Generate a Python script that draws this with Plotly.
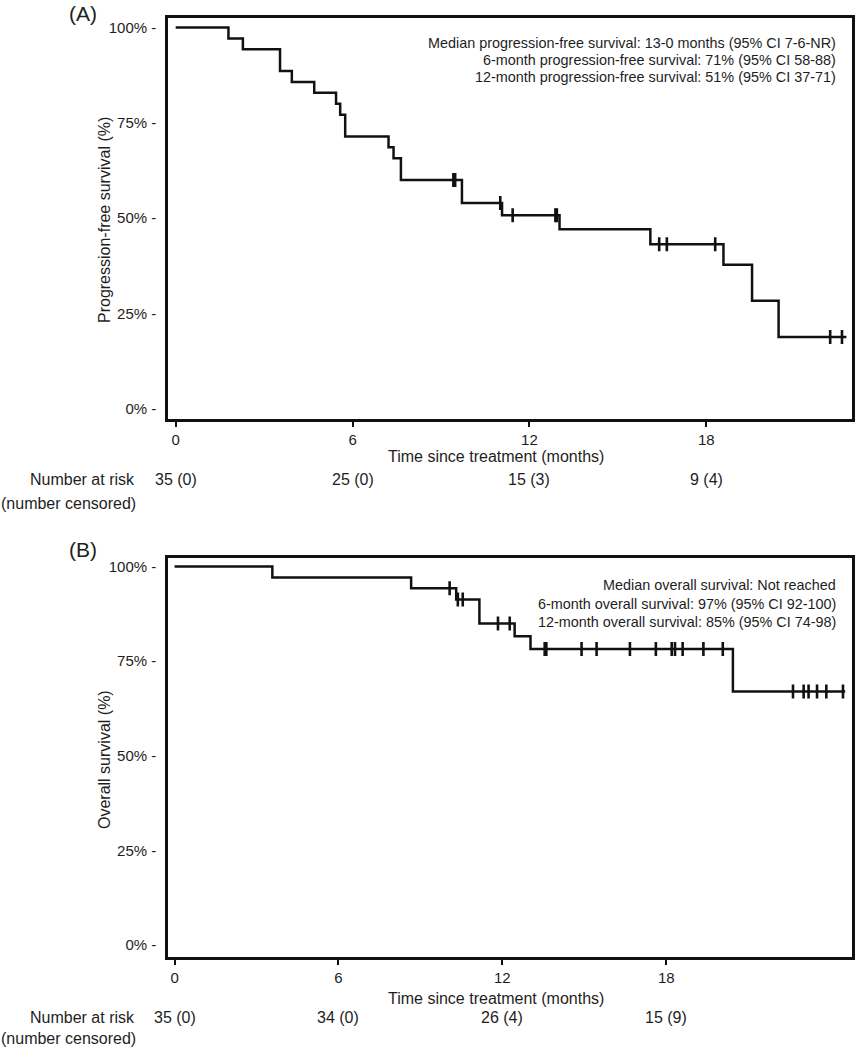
import plotly.graph_objects as go

# ---------------- Data: (A) progression-free survival ----------------
pfs_time = [0, 1.79, 2.28, 3.54, 3.94, 4.70, 5.44, 5.58, 5.75, 7.22, 7.39, 7.64,
            9.71, 11.07, 13.02, 16.10, 18.58, 19.55, 20.45, 22.75]
pfs_surv = [100, 97.1, 94.3, 88.6, 85.7, 82.9, 80.0, 77.1, 71.4, 68.6, 65.7, 60.0,
            54.0, 50.8, 47.1, 43.2, 37.8, 28.4, 18.9, 18.9]
pfs_cens_time = [9.42, 9.48, 11.01, 11.43, 12.88, 12.93, 16.40, 16.66, 18.30, 22.20, 22.60]
pfs_cens_surv = [60.0, 60.0, 54.0, 50.8, 50.8, 50.8, 43.2, 43.2, 43.2, 18.9, 18.9]

# ---------------- Data: (B) overall survival ----------------
os_time = [0, 3.58, 8.66, 10.31, 11.16, 12.45, 13.03, 20.44, 24.55]
os_surv = [100, 97.1, 94.3, 91.3, 85.0, 81.6, 78.2, 67.0, 67.0]
os_cens_time = [10.07, 10.37, 10.55, 11.84, 12.27, 13.55, 13.61, 14.90, 15.45, 16.67,
                17.62, 18.20, 18.32, 18.60, 19.36, 20.07,
                22.64, 23.03, 23.21, 23.52, 23.86, 24.47]
os_cens_surv = [94.3, 91.3, 91.3, 85.0, 85.0, 78.2, 78.2, 78.2, 78.2, 78.2,
                78.2, 78.2, 78.2, 78.2, 78.2, 78.2,
                67.0, 67.0, 67.0, 67.0, 67.0, 67.0]

x_ticks = [0, 6, 12, 18]
y_ticks = [0, 25, 50, 75, 100]
y_tick_text = ["0% -", "25% -", "50% -", "75% -", "100% -"]

pfs_risk = ["35 (0)", "25 (0)", "15 (3)", "9 (4)"]
os_risk = ["35 (0)", "34 (0)", "26 (4)", "15 (9)"]

pfs_text = ["Median progression-free survival: 13-0 months (95% CI 7-6-NR)",
            "6-month progression-free survival: 71% (95% CI 58-88)",
            "12-month progression-free survival: 51% (95% CI 37-71)"]
os_text = ["Median overall survival: Not reached",
           "6-month overall survival: 97% (95% CI 92-100)",
           "12-month overall survival: 85% (95% CI 74-98)"]

W, H = 855, 1050
FONT = "Liberation Sans, Arial, sans-serif"
TXT = "#1e1e1e"
LINE = "#111111"


def py(p):  # window pixel-from-top -> paper y
    return 1 - p / H


def px(p):
    return p / W


fig = go.Figure()

fig.add_trace(go.Scatter(x=pfs_time, y=pfs_surv, mode="lines", line=dict(shape="hv", color=LINE, width=2.5),
                         xaxis="x", yaxis="y", showlegend=False, hoverinfo="skip"))
fig.add_trace(go.Scatter(x=pfs_cens_time, y=pfs_cens_surv, mode="markers",
                         marker=dict(symbol="line-ns", size=10, line=dict(color=LINE, width=2.6)),
                         xaxis="x", yaxis="y", showlegend=False, hoverinfo="skip"))
fig.add_trace(go.Scatter(x=os_time, y=os_surv, mode="lines", line=dict(shape="hv", color=LINE, width=2.5),
                         xaxis="x2", yaxis="y2", showlegend=False, hoverinfo="skip"))
fig.add_trace(go.Scatter(x=os_cens_time, y=os_cens_surv, mode="markers",
                         marker=dict(symbol="line-ns", size=10, line=dict(color=LINE, width=2.6)),
                         xaxis="x2", yaxis="y2", showlegend=False, hoverinfo="skip"))

xdom = [px(168), px(852)]
axis_common = dict(showline=True, mirror=True, linecolor=LINE, linewidth=2.5, showgrid=False,
                   zeroline=False, tickfont=dict(family=FONT, size=15, color=TXT), automargin=False)

fig.update_layout(
    width=W, height=H, margin=dict(l=0, r=0, t=0, b=0),
    paper_bgcolor="white", plot_bgcolor="white", showlegend=False,
    xaxis=dict(domain=xdom, range=[-0.26, 22.94], tickvals=x_ticks, ticks="outside", ticklen=5,
               tickwidth=2, tickcolor=LINE, anchor="y", **axis_common),
    yaxis=dict(domain=[py(419.3), py(18.3)], range=[-2.7, 102.4], tickvals=y_ticks, ticktext=y_tick_text,
               ticks="", ticklabelstandoff=6, anchor="x", **axis_common),
    xaxis2=dict(domain=xdom, range=[-0.24, 24.8], tickvals=x_ticks, ticks="outside", ticklen=5,
                tickwidth=2, tickcolor=LINE, anchor="y2", **axis_common),
    yaxis2=dict(domain=[py(957.3), py(558.3)], range=[-3.25, 102.2], tickvals=y_ticks, ticktext=y_tick_text,
                ticks="", ticklabelstandoff=6, anchor="x2", **axis_common),
)

ann = []


def text(x, y, s, size=14, xanchor="center", angle=0):
    ann.append(dict(x=x, y=y, xref="paper", yref="paper", text=s, showarrow=False, xanchor=xanchor,
                    yanchor="middle", textangle=angle, font=dict(family=FONT, size=size, color=TXT)))


# panel letters
text(px(67), py(14), "(A)", size=21, xanchor="left")
text(px(67), py(549), "(B)", size=21, xanchor="left")

# y axis titles
text(px(104), py(220), "Progression-free survival (%)", size=16, angle=-90)
text(px(104), py(760), "Overall survival (%)", size=16, angle=-90)

# x axis titles
text(px(496), py(456), "Time since treatment (months)", size=16)
text(px(496), py(998), "Time since treatment (months)", size=16)

# info text
for s, yy in zip(pfs_text, [43.3, 60, 77]):
    text(px(838), py(yy), s, size=14.4, xanchor="right")
for s, yy in zip(os_text, [585, 603.5, 622]):
    text(px(838), py(yy), s, size=14.4, xanchor="right")

# number at risk
text(px(137), py(480), "Number at risk", size=16, xanchor="right")
text(px(138), py(503), "(number censored)", size=16, xanchor="right")
text(px(137), py(1017), "Number at risk", size=16, xanchor="right")
text(px(138), py(1038), "(number censored)", size=16, xanchor="right")

for t, s in zip(x_ticks, pfs_risk):
    ann.append(dict(x=t, y=py(480), xref="x", yref="paper", text=s, showarrow=False, xanchor="center",
                    yanchor="middle", font=dict(family=FONT, size=16, color=TXT)))
for t, s in zip(x_ticks, os_risk):
    ann.append(dict(x=t, y=py(1017), xref="x2", yref="paper", text=s, showarrow=False, xanchor="center",
                    yanchor="middle", font=dict(family=FONT, size=16, color=TXT)))

fig.update_layout(annotations=ann)
fig.write_html("out.html", config={"displayModeBar": False},
               post_script="document.body.style.margin='0';document.body.style.overflow='hidden';")
